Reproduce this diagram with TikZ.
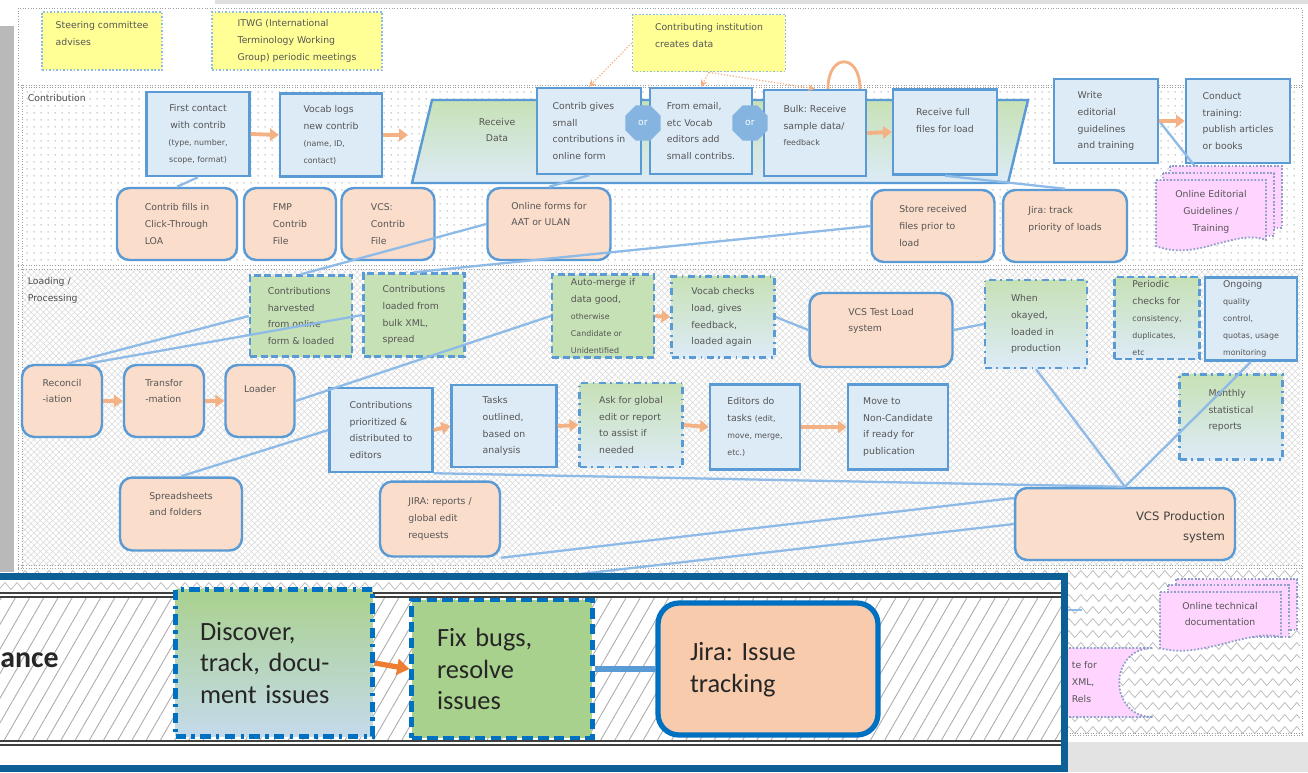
\documentclass[tikz,border=0pt]{standalone}
\usepackage{fontspec}
\setmainfont{Carlito}
\newfontfamily\boxfamily{DejaVu Sans}
\usetikzlibrary{arrows.meta, positioning, shapes.geometric, patterns, patterns.meta, decorations.pathmorphing}
\definecolor{vcblue}{RGB}{91,155,213}
\definecolor{vcfill}{RGB}{221,235,247}
\definecolor{vcgreen}{RGB}{199,225,182}
\definecolor{vcorange}{RGB}{251,221,203}
\definecolor{vcyellow}{RGB}{255,255,150}
\definecolor{vcpink}{RGB}{255,212,255}
\definecolor{vclink}{RGB}{141,186,230}
\definecolor{vcarrow}{RGB}{244,177,131}
\definecolor{vctext}{RGB}{85,85,85}
\definecolor{docedge}{RGB}{140,160,200}
\definecolor{calloutblue}{RGB}{12,96,150}
\definecolor{calldash}{RGB}{0,112,192}
\definecolor{callgreen}{RGB}{169,209,142}
\definecolor{callpale}{RGB}{197,218,235}
\definecolor{callorange}{RGB}{248,203,173}
\definecolor{callarrow}{RGB}{237,125,49}
\definecolor{calllink}{RGB}{91,155,213}
\newcommand{\boxfont}{\boxfamily\fontsize{5.3}{9.6}\selectfont}
\newcommand{\smallnote}{\fontsize{4.5}{7.8}\selectfont}
\frenchspacing

\tikzset{
  boxsize/.style 2 args={minimum width=#1cm, minimum height=#2cm},
  basebox/.style={font=\boxfont, text=vctext, align=left, inner sep=2pt},
  notebox/.style={basebox, draw=vclink, densely dotted, line width=1pt, fill=vcyellow},
  bluebox/.style={basebox, draw=vcblue, line width=1.4pt, fill=vcfill},
  orangebox/.style={basebox, draw=vcblue, line width=1.4pt, fill=vcorange, rounded corners=7pt},
  greenbox/.style={basebox, draw=vcblue, line width=1.4pt, fill=vcgreen, dash pattern=on 4pt off 2pt},
  mixbox/.style={basebox, draw=vcblue, line width=1.4pt, top color=vcgreen, bottom color=vcfill,
    dash pattern=on 4pt off 2.5pt on 1pt off 2.5pt},
  orsign/.style={regular polygon, regular polygon sides=8, fill=vcblue!75, minimum size=0.76cm,
    inner sep=0pt, font=\boxfont, text=white},
  flowarrow/.style={-{Triangle[length=5pt, width=7pt]}, line width=2.2pt, draw=vcarrow},
  feedarrow/.style={-{Stealth[length=4pt, width=4pt]}, line width=0.7pt, draw=vcarrow, densely dotted},
  wire/.style={draw=vclink, line width=1.3pt},
  docsheet/.style={draw=docedge, densely dotted, line width=1pt, fill=vcpink},
  zig/.style={draw=gray!55, line width=0.4pt, decorate,
    decoration={zigzag, segment length=0.24cm, amplitude=0.07cm}},
  laneline/.style={draw=gray!75, line width=0.5pt, densely dotted},
  calltext/.style={font=\fontsize{15}{18}\selectfont, text=black!85, align=left},
  callbox/.style={calltext, line width=2.4pt, draw=calldash},
}

\begin{document}
\begin{tikzpicture}[x=0.02cm, y=-0.02cm]
\useasboundingbox (0,0) rectangle (1308,772);
% window edges
\fill[gray!25] (215,0) rectangle (1308,4);
\fill[gray!55] (0,26) rectangle (14,572);
\fill[gray!22] (1066,742) rectangle (1308,772);
% lanes
\fill[white] (18,8) rectangle (1302,735);
\fill[pattern={Dots[distance=4pt, radius=0.55pt]}, pattern color=gray!45] (22,87) rectangle (1300,265);
\fill[pattern={Hatch[distance=2.5pt, angle=45, line width=0.3pt]}, pattern color=gray!30] (22,269) rectangle (1300,565);
\begin{scope}
  \clip (22,568) rectangle (1300,733);
  \foreach \zy in {574,586,...,730}
    \draw[zig] (22,\zy) -- (1300,\zy);
\end{scope}
\draw[laneline] (18,8) rectangle (1302,735);
\foreach \ly in {85,87,265,269,565,568,733}
  \draw[laneline] (18,\ly) -- (1302,\ly);
\draw[laneline] (22,85) -- (22,733);
\node[basebox, text=black!70, anchor=north west] (lcontrib) at (24,91) {Contribution};
\node[basebox, text=black!70, anchor=north west] (lload) at (24,274) {Loading /\\Processing};

% top lane
\node[notebox, boxsize={2.4}{1.16}, text depth=0.3cm] (steer) at (102,41) {Steering committee\\advises};
\node[notebox, boxsize={3.4}{1.16}] (itwg) at (297,41) {ITWG (International\\Terminology Working\\Group) periodic meetings};
\node[notebox, boxsize={3.06}{1.14}, text depth=0.3cm] (inst) at (709,43) {Contributing institution\\creates data};

% contribution lane
\draw[top color=vcgreen, bottom color=vcfill, draw=vcblue, line width=1.4pt]
  (432,100) -- (1028,100) -- (1008,183) -- (412,183) -- cycle;
\node[basebox, align=center] (recv) at (497,130) {Receive\\Data};
\coordinate (recvin) at (408,135);
\node[bluebox, boxsize={2.06}{1.68}, align=center] (first) at (198,134)
  {First contact\\with contrib\\{\smallnote (type, number,}\\{\smallnote scope, format)}};
\node[bluebox, boxsize={2.04}{1.66}] (vlogs) at (331,135)
  {Vocab logs\\new contrib\\{\smallnote (name, ID,}\\{\smallnote contact)}};
\node[bluebox, boxsize={2.08}{1.72}] (cgive) at (589,131) {Contrib gives\\small\\contributions in\\online form};
\node[bluebox, boxsize={2.04}{1.72}] (email) at (701,131) {From email,\\etc Vocab\\editors add\\small contribs.};
\node[bluebox, boxsize={2.04}{1.72}, text depth=0.3cm] (bulk) at (815,133) {Bulk: Receive\\sample data/\\{\smallnote feedback}};
\node[bluebox, boxsize={2.08}{1.70}, text depth=0.45cm] (full) at (945,132) {Receive full\\files for load};
\node[orsign] (or1) at (643,123) {or};
\node[orsign] (or2) at (750,123) {or};
\node[bluebox, boxsize={2.08}{1.68}] (write) at (1106,121) {Write\\editorial\\guidelines\\and training};
\node[bluebox, boxsize={2.08}{1.68}] (train) at (1238,121) {Conduct\\training:\\publish articles\\or books};
\node[basebox, align=center] (guide) at (1211,212) {Online Editorial\\Guidelines /\\Training};
\draw[wire] (write.east) -- (guide.north);
\draw[docsheet] (1170,166) rectangle (1282,228);
\draw[docsheet] (1163,173) rectangle (1274,236);
\draw[docsheet] (1156,180) -- (1266,180) -- (1266,240) .. controls (1236,228) and (1196,262) .. (1156,246) -- cycle;
\node[basebox, align=center] at (guide) {Online Editorial\\Guidelines /\\Training};

\node[orangebox, boxsize={2.4}{1.44}] (loa) at (177,224) {Contrib fills in\\Click-Through\\LOA};
\node[orangebox, boxsize={1.84}{1.44}] (fmp) at (290,224) {FMP\\Contrib\\File};
\node[orangebox, boxsize={1.86}{1.44}] (vcsf) at (388,224) {VCS:\\Contrib\\File};
\node[orangebox, boxsize={2.46}{1.44}, text depth=0.4cm] (forms) at (549,224) {Online forms for\\AAT or ULAN};
\node[orangebox, boxsize={2.46}{1.44}] (store) at (933,226) {Store received\\files prior to\\load};
\node[orangebox, boxsize={2.48}{1.44}, text depth=0.3cm] (jtrack) at (1065,226) {Jira: track\\priority of loads};

% loading lane
\node[greenbox, boxsize={2.04}{1.62}] (harv) at (301,316) {Contributions\\harvested\\from online\\form \& loaded};
\node[greenbox, boxsize={2.02}{1.66}] (bulkxml) at (414,315) {Contributions\\loaded from\\bulk XML,\\spread};
\node[greenbox, boxsize={2.04}{1.66}] (amerge) at (603,316)
  {Auto-merge if\\data good,\\{\fontsize{4.5}{7}\selectfont otherwise}\\{\fontsize{4.5}{7}\selectfont Candidate or}\\{\fontsize{4.5}{7}\selectfont Unidentified}};
\node[mixbox, boxsize={2.06}{1.62}] (vchk) at (723,317) {Vocab checks\\load, gives\\feedback,\\loaded again};
\node[orangebox, boxsize={2.86}{1.48}, text depth=0.4cm] (vtest) at (881,330) {VCS Test Load\\system};
\node[mixbox, boxsize={2.04}{1.76}] (okay) at (1036,324) {When\\okayed,\\loaded in\\production};
\node[mixbox, boxsize={1.70}{1.60}, dash pattern=on 4pt off 2pt] (period) at (1157,318)
  {Periodic\\checks for\\{\smallnote consistency,}\\{\smallnote duplicates,}\\{\smallnote etc}};
\node[bluebox, boxsize={1.84}{1.64}] (ongo) at (1251,319)
  {Ongoing\\{\smallnote quality}\\{\smallnote control,}\\{\smallnote quotas, usage}\\{\smallnote monitoring}};
\node[mixbox, boxsize={2.06}{1.70}, text depth=0.3cm] (monthly) at (1231,417) {Monthly\\statistical\\reports};
\node[orangebox, boxsize={1.60}{1.44}, text depth=0.4cm] (recon) at (62,401) {Reconcil\\-iation};
\node[orangebox, boxsize={1.60}{1.44}, text depth=0.4cm] (transf) at (164,401) {Transfor\\-mation};
\node[orangebox, boxsize={1.38}{1.44}, text depth=0.5cm] (loader) at (260,401) {Loader};
\node[bluebox, boxsize={2.06}{1.68}] (prio) at (381,430) {Contributions\\prioritized \&\\distributed to\\editors};
\node[bluebox, boxsize={2.10}{1.64}] (tasks) at (504,426) {Tasks\\outlined,\\based on\\analysis};
\node[mixbox, boxsize={2.06}{1.68}] (askg) at (631,425) {Ask for global\\edit or report\\to assist if\\needed};
\node[bluebox, boxsize={1.80}{1.70}] (edit) at (755,427)
  {Editors do\\tasks {\smallnote (edit,}\\{\smallnote move, merge,}\\{\smallnote etc.)}};
\node[bluebox, boxsize={2.00}{1.70}] (nonc) at (898,427) {Move to\\Non-Candidate\\if ready for\\publication};
\node[orangebox, boxsize={2.44}{1.46}, text depth=0.4cm] (sheets) at (181,514) {Spreadsheets\\and folders};
\node[orangebox, boxsize={2.40}{1.50}] (jrep) at (440,519) {JIRA: reports /\\global edit\\requests};
\node[orangebox, boxsize={4.40}{1.44}, text width=4.0cm, align=right, text depth=0.3cm,
  font=\boxfamily\fontsize{6.6}{11}\selectfont, text=black!75] (vprod) at (1125,524) {VCS Production\\system};

% maintenance lane, right part
\draw[docsheet] (1176,579) rectangle (1297,630);
\draw[docsheet] (1168,585) rectangle (1289,637);
\draw[docsheet] (1160,592) -- (1281,592) -- (1281,637) .. controls (1250,628) and (1200,660) .. (1160,648) -- cycle;
\node[basebox, align=center] (techdoc) at (1220,614) {Online technical\\documentation};
\draw[docsheet] (1020,648) -- (1153,648) .. controls (1108,648) and (1108,717) .. (1153,717) -- (1020,717) -- cycle;
\node[basebox, anchor=west] (xmlrels) at (1068,682) {te for\\XML,\\Rels};
\coordinate (mleft) at (1066,610);
\coordinate (mright) at (1082,610);
\draw[wire] (mleft) -- (mright);

% connectors
\draw[wire] (first.south) -- (loa.north);
\draw[wire] (cgive.south) -- (forms.north);
\draw[wire] (full.south) -- (jtrack.north);
\draw[wire] (harv.north) -- (forms.west);
\draw[wire] (bulkxml.north) -- (store.west);
\draw[wire] ([xshift=0.1cm]recon.north) -- (harv.west);
\draw[wire] ([xshift=0.5cm]recon.north) -- (bulkxml.west);
\draw[wire] (loader.east) -- (amerge.west);
\draw[wire] (sheets.north) -- (prio.west);
\draw[wire] (vchk.east) -- (vtest.west);
\draw[wire] (vtest.east) -- (okay.west);
\draw[wire] (okay.south) -- (vprod.north);
\draw[wire] (ongo.south) -- (vprod.north);
\draw[wire] (prio.south east) -- (vprod.north);
\draw[wire] (jrep.south east) -- ([yshift=0.52cm]vprod.west);
\coordinate (lowwire) at (580,574);
\draw[wire] (lowwire) -- (vprod.west);

\draw[flowarrow] (first.east) -- (vlogs.west);
\draw[flowarrow] (vlogs.east) -- (recvin);
\draw[flowarrow] (bulk.east) -- (full.west);
\draw[flowarrow] (write.east) -- (train.west);
\draw[flowarrow] (amerge.east) -- (vchk.west);
\draw[flowarrow] (recon.east) -- (transf.west);
\draw[flowarrow] (transf.east) -- (loader.west);
\draw[flowarrow] (prio.east) -- (tasks.west);
\draw[flowarrow] (tasks.east) -- (askg.west);
\draw[flowarrow] (askg.east) -- (edit.west);
\draw[flowarrow] (edit.east) -- (nonc.west);
\draw[feedarrow] (inst.west) -- (cgive.north);
\draw[feedarrow] (inst.south) -- (email.north);
\draw[feedarrow] (inst.south) -- (bulk.north);
\draw[vcarrow, line width=1.6pt] ([xshift=0.26cm]bulk.north) .. controls +(0,0.72cm) and +(0,0.72cm) .. ([xshift=0.9cm]bulk.north);

% magnified callout
\fill[white] (-10,576) rectangle (1064,768);
\begin{scope}
  \clip (-10,578) rectangle (1064,593);
  \draw[zig] (-10,586) -- (1064,586);
\end{scope}
\fill[pattern={Lines[distance=7pt, angle=60, line width=0.5pt]}, pattern color=gray!65] (-10,597) rectangle (1064,741);
\draw[black!75, line width=0.6pt] (-10,593) -- (1064,593) (-10,597) -- (1064,597)
  (-10,741) -- (1064,741) (-10,745) -- (1064,745);
\draw[calloutblue, line width=4pt] (-10,576) rectangle (1064,768);
\node[calltext, font=\bfseries\fontsize{17}{20}\selectfont, anchor=west, inner sep=0pt] (lmaint) at (0,660) {ance};
\node[callbox, boxsize={3.94}{2.94}, text width=2.96cm, top color=callgreen, middle color=callgreen!75!callpale,
  bottom color=callpale, dash pattern=on 6pt off 3pt on 2pt off 3pt] (disc) at (274,663) {Discover,\\track, docu-\\ment issues};
\node[callbox, boxsize={3.62}{2.76}, text width=2.6cm, fill=callgreen, dash pattern=on 6pt off 3pt] (fixb) at (502,669)
  {Fix bugs,\\resolve\\issues};
\node[callbox, boxsize={4.40}{2.64}, text width=3.12cm, fill=callorange, rounded corners=12pt, line width=3pt,
  text depth=0.7cm] (jira) at (768,669) {Jira: Issue\\tracking};
\draw[-{Triangle[length=7pt, width=9pt]}, line width=3pt, callarrow] (disc.east) -- (fixb.west);
\draw[calllink, line width=3.2pt] (fixb.east) -- (jira.west);
\end{tikzpicture}
\end{document}
